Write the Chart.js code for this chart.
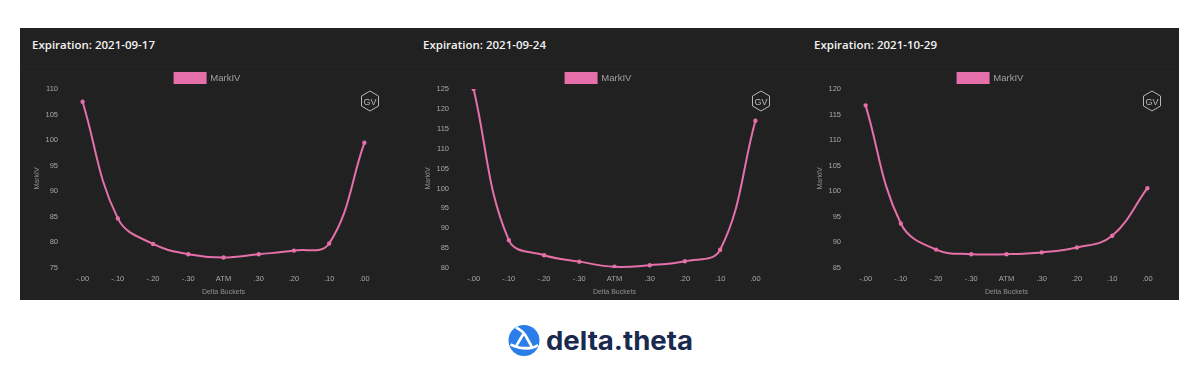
<!DOCTYPE html>
<html><head><meta charset="utf-8">
<script src="https://cdn.jsdelivr.net/npm/chart.js@4"></script>
<style>
html,body{margin:0;padding:0;background:#fff;width:1200px;height:383px;overflow:hidden}
#panel{position:absolute;left:20px;top:28px;width:1159px;height:272px;background:#212121}
#sep{position:absolute;left:20px;top:66px;width:1159px;height:1px;background:#252525}
.title{position:absolute;top:37px;font:600 11.5px "Open Sans",sans-serif;color:#f2f2f2;white-space:nowrap}
.box{position:absolute;top:68px;width:375px;height:232px}
.gv{position:absolute;top:90px;width:20px;height:22px}
#logo{position:absolute;left:508px;top:324px;width:190px;height:34px}
</style></head><body>
<div id="panel"></div><div id="sep"></div>
<div class="title" style="left:32px">Expiration: 2021-09-17</div>
<div class="title" style="left:423px">Expiration: 2021-09-24</div>
<div class="title" style="left:814px">Expiration: 2021-10-29</div>
<div class="box" style="left:20px"><canvas id="c1"></canvas></div>
<div class="box" style="left:411px"><canvas id="c2"></canvas></div>
<div class="box" style="left:803px"><canvas id="c3"></canvas></div>
<svg class="gv" style="left:360px" viewBox="0 0 20 22"><polygon points="10,1 18.5,6 18.5,16 10,21 1.5,16 1.5,6" fill="none" stroke="#b8b8b8" stroke-width="1"/><text x="10" y="14.5" text-anchor="middle" font-family="Liberation Sans" font-size="9" fill="#b8b8b8">GV</text></svg>
<svg class="gv" style="left:751px" viewBox="0 0 20 22"><polygon points="10,1 18.5,6 18.5,16 10,21 1.5,16 1.5,6" fill="none" stroke="#b8b8b8" stroke-width="1"/><text x="10" y="14.5" text-anchor="middle" font-family="Liberation Sans" font-size="9" fill="#b8b8b8">GV</text></svg>
<svg class="gv" style="left:1142px" viewBox="0 0 20 22"><polygon points="10,1 18.5,6 18.5,16 10,21 1.5,16 1.5,6" fill="none" stroke="#b8b8b8" stroke-width="1"/><text x="10" y="14.5" text-anchor="middle" font-family="Liberation Sans" font-size="9" fill="#b8b8b8">GV</text></svg>
<svg id="logo" viewBox="0 0 190 34">
<circle cx="16" cy="16.5" r="15.5" fill="#2b7de9"/>
<path d="M8 3.5 C13 6 15.5 8 17.5 11.5 L24.5 24 M24.5 24 L13 24 M30 21 C24 25.5 14 26 2.5 20.5 M8.5 21.5 L15 10.5" fill="none" stroke="#fff" stroke-width="2.6" stroke-linejoin="round"/>
<text x="38" y="26" font-family="Inter,'Open Sans',sans-serif" font-weight="700" font-size="26" fill="#1a2a4f" textLength="147" lengthAdjust="spacingAndGlyphs">delta.theta</text>
</svg>
<script>
const categories=['-.00','-.10','-.20','-.30','ATM','.30','.20','.10','.00'];
const series1=[107.5,84.7,79.7,77.7,77.05,77.7,78.4,79.8,99.5];
const series2=[125,87,83.2,81.6,80.3,80.7,81.7,84.6,117];
const series3=[116.8,93.7,88.6,87.7,87.7,88.05,89,91.3,100.6];
const ranges=[[75,110],[80,125],[85,120]];
const pink='#e56fa8';
const legendFit={id:'legendFit',beforeInit(chart){const f=chart.legend.fit;chart.legend.fit=function(){f.call(this);this.height=19;};}};
function draw(id,values,range){
 new Chart(document.getElementById(id),{type:'line',plugins:[legendFit],
  data:{labels:categories,datasets:[{label:'MarkIV',data:values,borderColor:pink,backgroundColor:pink,borderWidth:2,pointRadius:1.2,pointHoverRadius:2,tension:0.4}]},
  options:{responsive:false,animation:false,
   layout:{padding:{left:13,right:13,top:2,bottom:0}},
   plugins:{legend:{display:true,position:'top',labels:{boxWidth:31,boxHeight:10,color:'#a0a0a0',padding:3,font:{size:9.5,family:'Liberation Sans'}}},tooltip:{enabled:false}},
   scales:{
    x:{offset:true,grid:{display:true,color:'#232323',drawTicks:false},border:{display:false},
       title:{display:true,text:'Delta Buckets',color:'#909090',font:{size:7,family:'Liberation Sans'},padding:{top:0,bottom:4}},
       ticks:{color:'#a8a8a8',font:{size:7.5,family:'Liberation Sans'},padding:6,maxRotation:0,autoSkip:false},
       afterFit(s){s.height=32;}},
    y:{min:range[0],max:range[1],grid:{display:true,color:'#232323',drawTicks:false},border:{display:false},
       title:{display:true,text:'MarkIV',color:'#909090',font:{size:7,family:'Liberation Sans'},padding:{top:0,bottom:0}},
       ticks:{stepSize:5,color:'#a8a8a8',font:{size:7.5,family:'Liberation Sans'},padding:7},
       afterFit(s){s.width=32;}}
   }}});
}
for(const [id,v,r] of [['c1',series1,ranges[0]],['c2',series2,ranges[1]],['c3',series3,ranges[2]]]){
 const c=document.getElementById(id);c.width=375;c.height=232;
 draw(id,v,r);
}
</script>
</body></html>
